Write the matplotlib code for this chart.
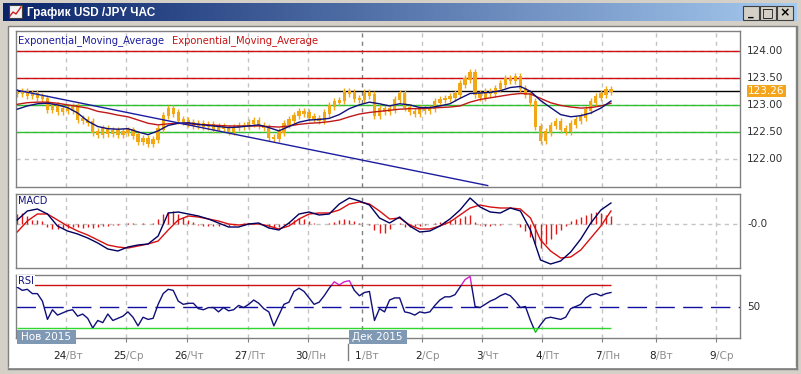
import numpy as np
import matplotlib
matplotlib.use("Agg")
import matplotlib.pyplot as plt
from matplotlib.patches import Rectangle
from matplotlib.transforms import blended_transform_factory

W, H = 801, 374

# hourly chart, one value every 2 bars
close = [123.22, 123.24, 123.18, 123.20, 123.15, 123.12, 122.92, 122.98, 122.88, 122.93,
         122.90, 122.97, 122.74, 122.72, 122.68, 122.50, 122.45, 122.55, 122.48, 122.52,
         122.45, 122.50, 122.53, 122.44, 122.32, 122.38, 122.30, 122.36, 122.55, 122.80,
         122.92, 122.85, 122.72, 122.70, 122.66, 122.62, 122.65, 122.60, 122.63, 122.55,
         122.60, 122.56, 122.52, 122.58, 122.62, 122.60, 122.66, 122.70, 122.62, 122.58,
         122.40, 122.38, 122.50, 122.65, 122.72, 122.80, 122.88, 122.85, 122.78, 122.75,
         122.72, 122.85, 122.98, 123.05, 123.08, 123.25, 123.22, 123.12, 123.10, 123.22,
         123.18, 122.80, 122.92, 122.88, 122.92, 123.10, 123.20, 122.95, 122.88, 122.85,
         122.92, 122.90, 122.93, 123.05, 123.10, 123.12, 123.15, 123.20, 123.38, 123.48,
         123.60, 123.20, 123.15, 123.25, 123.22, 123.30, 123.38, 123.48, 123.45, 123.52,
         123.30, 123.20, 123.05, 122.60, 122.35, 122.50, 122.62, 122.68, 122.55, 122.52,
         122.65, 122.72, 122.78, 122.90, 123.05, 123.15, 123.20, 123.28, 123.26]

hist = [0.10, 0.11, 0.08, 0.04, 0.04, 0.03, -0.03, -0.05, -0.05, -0.04,
        -0.04, -0.03, -0.03, -0.04, -0.03, -0.04, -0.03, -0.02, -0.02, -0.01,
        -0.01, 0.00, 0.01, 0.01, 0.00, 0.01, 0.00, 0.01, 0.05, 0.10,
        0.12, 0.13, 0.10, 0.07, 0.04, 0.02, -0.01, -0.02, -0.02, -0.02,
        -0.02, -0.01, -0.02, -0.01, 0.00, 0.01, 0.01, 0.01, 0.00, -0.01,
        -0.03, -0.04, -0.03, -0.01, 0.02, 0.04, 0.06, 0.05, 0.03, 0.01,
        0.00, 0.00, 0.01, 0.02, 0.04, 0.05, 0.04, 0.03, 0.01, 0.00,
        -0.01, -0.06, -0.09, -0.09, -0.05, 0.00, 0.01, -0.03, -0.03, -0.02,
        -0.02, -0.01, 0.00, 0.01, 0.02, 0.03, 0.04, 0.05, 0.06, 0.08,
        0.09, 0.02, -0.01, -0.02, -0.02, -0.01, -0.01, 0.00, 0.00, 0.00,
        -0.03, -0.07, -0.13, -0.20, -0.24, -0.20, -0.15, -0.10, -0.06, -0.02,
        0.03, 0.05, 0.07, 0.09, 0.11, 0.12, 0.11, 0.09, 0.08]

rsi = [68, 65, 66, 62, 62, 55, 38, 47, 42, 44,
       46, 47, 41, 43, 39, 30, 37, 35, 43, 37,
       39, 41, 45, 40, 32, 40, 38, 39, 52, 62,
       66, 65, 55, 52, 53, 53, 48, 47, 49, 49,
       45, 49, 46, 47, 51, 49, 52, 56, 53, 48,
       45, 32, 42, 52, 54, 64, 67, 64, 58, 52,
       54, 60, 67, 73, 70, 73, 74, 65, 60, 63,
       64, 37, 48, 45, 56, 58, 58, 45, 44, 42,
       45, 44, 45, 51, 56, 59, 59, 61, 68, 75,
       78, 50, 49, 52, 55, 57, 60, 62, 60, 55,
       49, 50, 37, 26, 33, 39, 40, 39, 38, 40,
       48, 50, 52, 58, 61, 62, 60, 62, 63]

# smooth lines, one value every 4 bars
ema_fast = [122.92, 122.98, 123.02, 123.03, 123.00, 122.95, 122.85, 122.70, 122.60, 122.56,
            122.55, 122.56, 122.50, 122.45, 122.52, 122.62, 122.66, 122.67, 122.64, 122.62,
            122.60, 122.58, 122.59, 122.61, 122.63, 122.58, 122.52, 122.60, 122.68, 122.72,
            122.73, 122.75, 122.82, 122.93, 123.00, 123.05, 123.02, 122.98, 123.02, 123.00,
            122.95, 122.95, 122.98, 123.02, 123.12, 123.21, 123.22, 123.23, 123.26, 123.32,
            123.34, 123.25, 123.08, 122.95, 122.82, 122.78, 122.80, 122.85, 122.94, 123.07]
ema_slow = [123.01, 123.04, 123.05, 123.05, 123.03, 123.00, 122.97, 122.94, 122.88, 122.85,
            122.81, 122.78, 122.72, 122.66, 122.63, 122.65, 122.66, 122.65, 122.64, 122.63,
            122.62, 122.61, 122.61, 122.61, 122.61, 122.60, 122.59, 122.61, 122.64, 122.66,
            122.67, 122.69, 122.72, 122.78, 122.83, 122.86, 122.88, 122.90, 122.92, 122.93,
            122.93, 122.94, 122.95, 122.96, 122.98, 123.05, 123.10, 123.13, 123.16, 123.19,
            123.21, 123.20, 123.12, 123.04, 122.99, 122.96, 122.94, 122.95, 122.98, 123.03]
macd = [0.04, 0.13, 0.15, 0.10, -0.02, -0.07, -0.10, -0.14, -0.19, -0.25,
        -0.27, -0.23, -0.21, -0.20, -0.12, 0.11, 0.12, 0.10, 0.08, 0.05,
        0.01, -0.03, -0.03, 0.00, 0.01, -0.04, -0.06, 0.01, 0.10, 0.12,
        0.09, 0.10, 0.20, 0.26, 0.23, 0.19, 0.06, 0.01, 0.07, -0.02,
        -0.08, -0.07, -0.02, 0.05, 0.14, 0.26, 0.17, 0.12, 0.11, 0.16,
        0.13, -0.06, -0.36, -0.40, -0.37, -0.28, -0.15, 0.01, 0.14, 0.21]
signal = [-0.08, 0.03, 0.10, 0.10, 0.04, -0.02, -0.07, -0.11, -0.16, -0.21,
          -0.23, -0.24, -0.22, -0.20, -0.17, -0.06, 0.04, 0.08, 0.07, 0.05,
          0.03, 0.00, -0.01, 0.00, 0.00, -0.02, -0.05, -0.02, 0.05, 0.10,
          0.11, 0.11, 0.14, 0.20, 0.22, 0.20, 0.13, 0.05, 0.06, -0.01,
          -0.05, -0.05, -0.02, 0.02, 0.09, 0.16, 0.19, 0.17, 0.16, 0.16,
          0.15, 0.06, -0.16, -0.27, -0.34, -0.33, -0.26, -0.14, -0.02, 0.13]

trend_x = [0, 187]
trend_y = [123.27, 121.51]
red_levels = [124.0, 123.5]
green_levels = [123.0, 122.5]
last_price = 123.26
price_ticks = [122.0, 122.5, 123.0, 123.5, 124.0]

day_pos = [19.4, 43.3, 67.5, 91.7, 115.5, 136.9, 160.7, 184.9, 208.7, 232.5, 254.0, 277.8]
day_num = ['24', '25', '26', '27', '30', '1', '2', '3', '4', '7', '8', '9']
day_name = ['Вт', 'Ср', 'Чт', 'Пт', 'Пн', 'Вт', 'Ср', 'Чт', 'Пт', 'Пн', 'Вт', 'Ср']
month_pos = [0, 131.7]
month_lbl = ['Нов 2015', 'Дек 2015']

bx = np.arange(len(close)) * 2
lx = np.arange(len(ema_fast)) * 4

NAVY = '#10107a'
RED = '#d01010'
ORANGE = '#f2a814'
GRID = '#c4c4c4'

fig = plt.figure(figsize=(W / 100, H / 100), dpi=100)
fig.patch.set_facecolor('#d4d0c8')


def px_axes(l, t, r, b, z=0):
    return fig.add_axes([l / W, 1 - b / H, (r - l) / W, (b - t) / H], zorder=z)


# window chrome
bg = px_axes(0, 0, W, H, z=-5)
bg.set_xlim(0, W)
bg.set_ylim(H, 0)
bg.axis('off')
grad = np.linspace(0, 1, 256).reshape(1, -1)
cmap = matplotlib.colors.LinearSegmentedColormap.from_list('tb', ['#0a246a', '#a6caf0'])
bg.imshow(grad, cmap=cmap, extent=(3, 797, 21, 3), aspect='auto')
bg.add_patch(Rectangle((8, 26), 788, 342, facecolor='white', edgecolor='#808080', lw=1))
bg.plot([9, 795], [367, 367], color='#ffffff', lw=1)
bg.plot([797, 797], [26, 369], color='#808080', lw=1)
bg.plot([8, 797], [369, 369], color='#808080', lw=1)
bg.add_patch(Rectangle((9, 5), 13, 13, facecolor='#f4f4f4', edgecolor='#404040', lw=0.8))
bg.plot([10, 13, 16, 21], [16, 12, 14, 7], color='#d02020', lw=1)
bg.text(27, 12.5, 'График USD /JPY ЧАС', color='white', fontsize=8.5, fontweight='bold',
        family='Liberation Sans', va='center', ha='left')
for bxp, g in zip([743, 760, 777], ['_', '□', '×']):
    bg.add_patch(Rectangle((bxp, 6), 16, 14, facecolor='#d4d0c8', edgecolor='#404040', lw=0.8))
    bg.text(bxp + 8, 12.5, g, ha='center', va='center', fontsize=9 if g != '_' else 8,
            fontweight='bold', color='black')


def style_panel(ax):
    for s in ax.spines.values():
        s.set_color('#808080')
        s.set_linewidth(1)
    ax.set_xlim(-0.5, 287.3)
    ax.tick_params(left=False, right=False, top=False, bottom=False,
                   labelleft=False, labelbottom=False)
    for i, p in enumerate(day_pos):
        ax.axvline(p, color='#808080' if i == 5 else GRID, lw=1, dashes=(3, 3), zorder=0)


def right_label(ax, y, txt, **kw):
    ax.annotate(txt, xy=(1, y), xycoords=('axes fraction', 'data'), xytext=(7, 0),
                textcoords='offset pixels', ha='left', va='center', fontsize=7.5,
                color='#303030', annotation_clip=False, **kw)


# main price panel
ax = px_axes(16, 31, 740, 187)
style_panel(ax)
ax.set_ylim(121.483, 124.364)
for p in price_ticks:
    ax.axhline(p, color=GRID, lw=1, dashes=(3, 3), zorder=0)
    right_label(ax, p, f'{p:.2f}')
for p in red_levels:
    ax.axhline(p, color=RED, lw=1, zorder=1)
for p in green_levels:
    ax.axhline(p, color='#2ec02e', lw=1, zorder=1)
ax.axhline(last_price, color='black', lw=1, zorder=1)
opens = [close[0]] + close[:-1]
lo = np.minimum(opens, close)
hi = np.maximum(opens, close)
ax.vlines(bx, lo - 0.07, hi + 0.07, color=ORANGE, lw=1, zorder=2)
ax.bar(bx, hi - lo + 0.03, bottom=lo - 0.015, width=1.3, color=ORANGE, lw=0, zorder=2)
ax.plot(lx, ema_slow, color='#c01818', lw=1, zorder=3)
ax.plot(lx, ema_fast, color=NAVY, lw=1, zorder=3)
ax.plot(trend_x, trend_y, color='#1c1ca0', lw=1, zorder=3)
ax.annotate(f'{last_price:.2f}', xy=(1, last_price), xycoords=('axes fraction', 'data'),
            xytext=(8, 0), textcoords='offset pixels', ha='left', va='center', fontsize=7.5,
            color='white', annotation_clip=False,
            bbox=dict(boxstyle='square,pad=0.12', fc='#f5a51c', ec='none'))
ax.text(2 / 724, 1 - 10 / 156, 'Exponential_Moving_Average', transform=ax.transAxes,
        color='#1c1c9c', fontsize=7.2, va='center', ha='left')
ax.text(156 / 724, 1 - 10 / 156, 'Exponential_Moving_Average', transform=ax.transAxes,
        color='#c81414', fontsize=7.2, va='center', ha='left')

# MACD panel
am = px_axes(16, 194, 740, 268)
style_panel(am)
am.set_ylim(-0.44, 0.30)
am.axhline(0, color=GRID, lw=1, dashes=(3, 3), zorder=0)
am.vlines(bx, 0, hist, color='#e01818', lw=1, zorder=1)
am.plot(lx, signal, color='#d81010', lw=1, zorder=2)
am.plot(lx, macd, color='#000060', lw=1, zorder=3)
right_label(am, 0, '-0.0')
am.text(2 / 724, 1 - 7 / 74, 'MACD', transform=am.transAxes, color=NAVY, fontsize=7,
        va='center', ha='left')

# RSI panel
ar = px_axes(16, 275, 740, 338)
style_panel(ar)
ar.set_ylim(20.7, 79.3)
ar.hlines(70, bx[0], bx[-1], color=RED, lw=1, zorder=1)
ar.hlines(30, bx[0], bx[-1], color='#2ed82e', lw=1, zorder=1)
ar.axhline(50, color='#1010a0', lw=1, dashes=(14, 6), zorder=1)
for col, y0, y1 in [(NAVY, 30, 70), ('#cc20cc', 70, 100), ('#20c020', 0, 30)]:
    ln, = ar.plot(bx, rsi, color=col, lw=1, zorder=3)
    ln.set_clip_path(Rectangle((-10, y0), 400, y1 - y0, transform=ar.transData))
right_label(ar, 50, '50')
ar.text(2 / 724, 1 - 6 / 63, 'RSI', transform=ar.transAxes, color=NAVY, fontsize=7,
        va='center', ha='left', zorder=5,
        bbox=dict(boxstyle='square,pad=0.1', fc='white', ec='none'))
ar.set_xticks(day_pos)
ar.tick_params(bottom=True, direction='out', length=3, color='#808080')

for p, n, d in zip(day_pos, day_num, day_name):
    ar.annotate(n, xy=(p, 0), xycoords=('data', 'axes fraction'), xytext=(0, -18),
                textcoords='offset pixels', ha='right', va='center', fontsize=7.5,
                color='#202020', annotation_clip=False)
    ar.annotate('/' + d, xy=(p, 0), xycoords=('data', 'axes fraction'), xytext=(0, -18),
                textcoords='offset pixels', ha='left', va='center', fontsize=7.5,
                color='#8c8c8c', annotation_clip=False)

# month boxes straddling the bottom of the RSI panel
bt = blended_transform_factory(ar.transData, ar.transAxes)
for p, m in zip(month_pos, month_lbl):
    ar.add_patch(Rectangle((p, -6 / 63), 23.2, 14 / 63, transform=bt, facecolor='#7f99b4',
                           edgecolor='none', clip_on=False, zorder=10))
    ar.text(p + 11.6, 1 / 63, m, transform=bt, ha='center', va='center', fontsize=7.5,
            color='white', zorder=11, clip_on=False)
ar.plot([month_pos[1] - 0.2] * 2, [-6 / 63, -22 / 63], transform=bt, color='#808080',
        lw=1, clip_on=False)

fig.savefig('out.png', dpi=100, facecolor=fig.get_facecolor())
